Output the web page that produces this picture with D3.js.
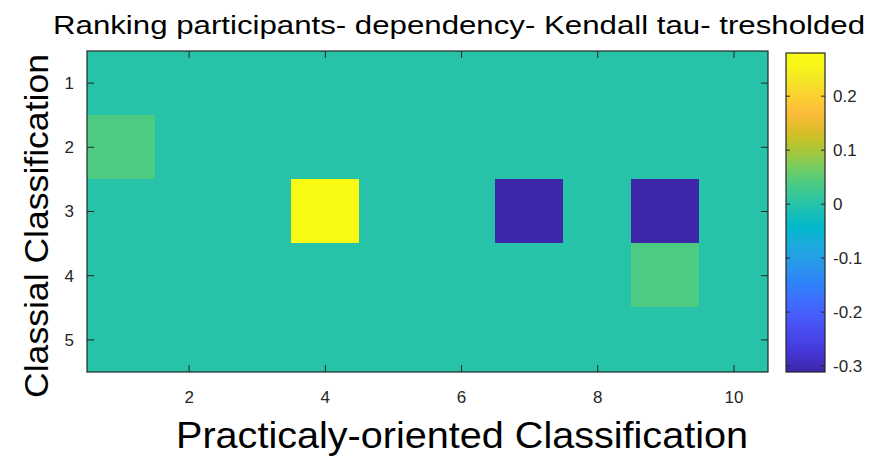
<!DOCTYPE html>
<html>
<head>
<meta charset="utf-8">
<script src="https://cdn.jsdelivr.net/npm/d3@7"></script>
<style>
  body { margin: 0; background: #fff; }
  text { font-family: "Liberation Sans", Arial, sans-serif; }
</style>
</head>
<body>
<div id="chart"></div>
<script>
// rows = Classial Classification, cols = Practicaly-oriented Classification
const rows = [1, 2, 3, 4, 5];
const cols = [1, 2, 3, 4, 5, 6, 7, 8, 9, 10];
const values = [
  [0, 0, 0, 0, 0, 0, 0, 0, 0, 0],
  [0.04, 0, 0, 0, 0, 0, 0, 0, 0, 0],
  [0, 0, 0, 0.28, 0, 0, -0.311, 0, -0.311, 0],
  [0, 0, 0, 0, 0, 0, 0, 0, 0.04, 0],
  [0, 0, 0, 0, 0, 0, 0, 0, 0, 0]
];
const xTicks = [2, 4, 6, 8, 10];
const yTicks = [1, 2, 3, 4, 5];
const cbTicks = [0.2, 0.1, 0, -0.1, -0.2, -0.3];
const colorLimits = [-0.311, 0.28];

// parula, every 3rd of the 64-entry table
const parula = [
  [0.2422, 0.1504, 0.6603], [0.2647, 0.1978, 0.7952], [0.2783, 0.2559, 0.8991],
  [0.2813, 0.3006, 0.9414], [0.2760, 0.3667, 0.9829], [0.2440, 0.4358, 0.9988],
  [0.1834, 0.5074, 0.9798], [0.1687, 0.5703, 0.9359], [0.1380, 0.6276, 0.8973],
  [0.0952, 0.6798, 0.8598], [0.0036, 0.7203, 0.7917], [0.0964, 0.7500, 0.7120],
  [0.1938, 0.7758, 0.6251], [0.2906, 0.7973, 0.5188], [0.4456, 0.8024, 0.3909],
  [0.6174, 0.7876, 0.2612], [0.7738, 0.7598, 0.1646], [0.9035, 0.7330, 0.1774],
  [0.9956, 0.7434, 0.2371], [0.9892, 0.8136, 0.1885], [0.9610, 0.8890, 0.1537],
  [0.9691, 0.9606, 0.1064], [0.9769, 0.9839, 0.0805]
].map(c => d3.rgb(c[0] * 255, c[1] * 255, c[2] * 255).formatHex());

const colour = d3.scaleLinear()
  .domain(d3.range(parula.length).map(i => colorLimits[0] + (colorLimits[1] - colorLimits[0]) * i / (parula.length - 1)))
  .range(parula)
  .interpolate(d3.interpolateRgb)
  .clamp(true);

const width = 874, height = 458;
const plot = { left: 87, top: 51, right: 768, bottom: 372 };
const axisColour = "#262626";

const svg = d3.select("#chart").append("svg")
  .attr("width", width)
  .attr("height", height);

const x = d3.scaleLinear().domain([0.5, cols.length + 0.5]).range([plot.left, plot.right]);
const y = d3.scaleLinear().domain([0.5, rows.length + 0.5]).range([plot.top, plot.bottom]);

const cells = [];
rows.forEach((r, i) => cols.forEach((c, j) => cells.push({ r, c, v: values[i][j] })));

svg.append("g")
  .attr("shape-rendering", "crispEdges")
  .selectAll("rect")
  .data(cells)
  .enter()
  .append("rect")
  .attr("x", d => Math.floor(x(d.c - 0.5)))
  .attr("y", d => Math.floor(y(d.r - 0.5)))
  .attr("width", d => Math.ceil(x(d.c + 0.5)) - Math.floor(x(d.c - 0.5)))
  .attr("height", d => Math.ceil(y(d.r + 0.5)) - Math.floor(y(d.r - 0.5)))
  .attr("fill", d => colour(d.v));

// ticks on all four sides, pointing inward
const tickLen = 7;
const tickStyle = sel => sel.attr("stroke", axisColour).attr("stroke-width", 1);
const ticks = svg.append("g");
xTicks.forEach(t => {
  ticks.append("line").attr("x1", x(t)).attr("x2", x(t)).attr("y1", plot.bottom).attr("y2", plot.bottom - tickLen).call(tickStyle);
  ticks.append("line").attr("x1", x(t)).attr("x2", x(t)).attr("y1", plot.top).attr("y2", plot.top + tickLen).call(tickStyle);
});
yTicks.forEach(t => {
  ticks.append("line").attr("x1", plot.left).attr("x2", plot.left + tickLen).attr("y1", y(t)).attr("y2", y(t)).call(tickStyle);
  ticks.append("line").attr("x1", plot.right).attr("x2", plot.right - tickLen).attr("y1", y(t)).attr("y2", y(t)).call(tickStyle);
});

svg.append("rect")
  .attr("x", plot.left).attr("y", plot.top)
  .attr("width", plot.right - plot.left).attr("height", plot.bottom - plot.top)
  .attr("fill", "none").attr("stroke", axisColour).attr("stroke-width", 1.2);

svg.append("g")
  .selectAll("text")
  .data(xTicks)
  .enter()
  .append("text")
  .attr("x", d => x(d))
  .attr("y", plot.bottom + 31)
  .attr("text-anchor", "middle")
  .attr("font-size", 17)
  .attr("fill", axisColour)
  .text(d => d);

svg.append("g")
  .selectAll("text")
  .data(yTicks)
  .enter()
  .append("text")
  .attr("x", plot.left - 13)
  .attr("y", d => y(d))
  .attr("dy", "0.35em")
  .attr("text-anchor", "end")
  .attr("font-size", 17)
  .attr("fill", axisColour)
  .text(d => d);

// colorbar
const cb = { left: 786, right: 825, top: 53, bottom: 372 };
const cy = d3.scaleLinear().domain(colorLimits).range([cb.bottom, cb.top]);
const defs = svg.append("defs");
const grad = defs.append("linearGradient")
  .attr("id", "parula").attr("x1", 0).attr("x2", 0).attr("y1", 1).attr("y2", 0);
grad.selectAll("stop")
  .data(parula)
  .enter()
  .append("stop")
  .attr("offset", (d, i) => i / (parula.length - 1))
  .attr("stop-color", d => d);

svg.append("rect")
  .attr("x", cb.left).attr("y", cb.top)
  .attr("width", cb.right - cb.left).attr("height", cb.bottom - cb.top)
  .attr("fill", "url(#parula)")
  .attr("stroke", axisColour).attr("stroke-width", 1.2);

cbTicks.forEach(t => {
  svg.append("line").attr("x1", cb.right).attr("x2", cb.right - 4).attr("y1", cy(t)).attr("y2", cy(t)).call(tickStyle);
  svg.append("line").attr("x1", cb.left).attr("x2", cb.left + 4).attr("y1", cy(t)).attr("y2", cy(t)).call(tickStyle);
});
svg.append("g")
  .selectAll("text")
  .data(cbTicks)
  .enter()
  .append("text")
  .attr("x", cb.right + 8)
  .attr("y", d => cy(d))
  .attr("dy", "0.35em")
  .attr("font-size", 17)
  .attr("fill", axisColour)
  .text(d => d);

// labels
svg.append("text")
  .attr("x", 459).attr("y", 34)
  .attr("text-anchor", "middle")
  .attr("font-size", 26)
  .attr("textLength", 812)
  .attr("lengthAdjust", "spacingAndGlyphs")
  .attr("fill", "#000")
  .text("Ranking participants- dependency- Kendall tau- tresholded");

svg.append("text")
  .attr("x", 462).attr("y", 448)
  .attr("text-anchor", "middle")
  .attr("font-size", 36)
  .attr("textLength", 572)
  .attr("lengthAdjust", "spacingAndGlyphs")
  .attr("fill", "#000")
  .text("Practicaly-oriented Classification");

svg.append("text")
  .attr("transform", "translate(48,226) rotate(-90)")
  .attr("text-anchor", "middle")
  .attr("font-size", 34)
  .attr("textLength", 344)
  .attr("lengthAdjust", "spacingAndGlyphs")
  .attr("fill", "#000")
  .text("Classial Classification");
</script>
</body>
</html>
